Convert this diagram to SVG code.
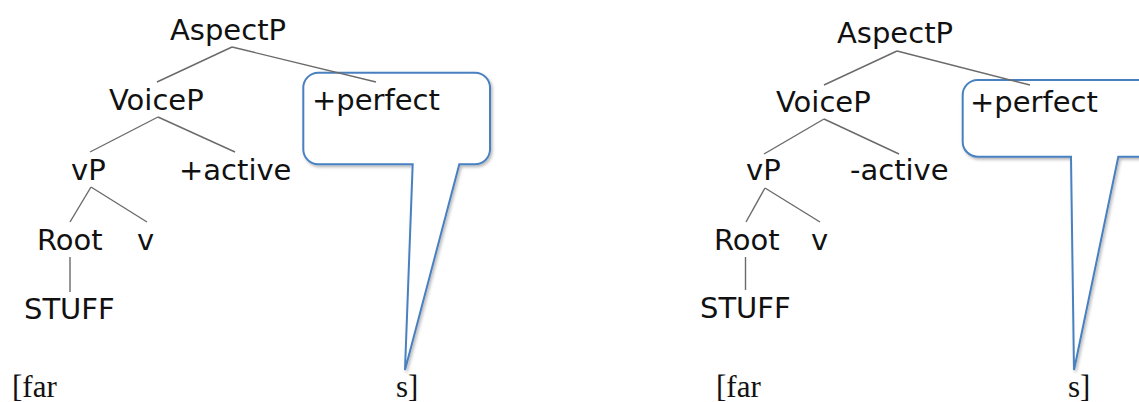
<svg xmlns="http://www.w3.org/2000/svg" width="1139" height="402" viewBox="0 0 1139 402">
  <defs>
    <filter id="shadow" x="-10%" y="-10%" width="130%" height="130%">
      <feDropShadow dx="1.5" dy="2" stdDeviation="1.5" flood-color="#000" flood-opacity="0.28"/>
    </filter>
  </defs>
  <style>
    .lbl { font-family: "DejaVu Sans", sans-serif; font-size: 29px; fill: #111; }
    .word { font-family: "Liberation Serif", serif; font-size: 31px; fill: #111; }
    .edge { stroke: #6a6a6a; stroke-width: 1.4; fill: none; }
    .callout { fill: #fff; stroke: #4a80c0; stroke-width: 2; stroke-linejoin: miter; filter: url(#shadow); }
  </style>
  <rect width="1139" height="402" fill="#fff"/>

  <!-- left tree: +active -->
  <g id="callout-left">
    <path class="callout" d="M318.3,72.7 H475 A15,15 0 0 1 490,87.7 V149.3 A15,15 0 0 1 475,164.3 H459.3 L405,370 L412.7,164.3 H318.3 A15,15 0 0 1 303.3,149.3 V87.7 A15,15 0 0 1 318.3,72.7 Z"/>
    <text class="lbl" x="312" y="110">+perfect</text>
  </g>
  <g id="connectors-left">
    <line class="edge" x1="232" y1="47" x2="157" y2="82"/>
    <line class="edge" x1="232" y1="47" x2="376" y2="82"/>
    <line class="edge" x1="158" y1="117" x2="90" y2="152"/>
    <line class="edge" x1="158" y1="117" x2="235" y2="152"/>
    <line class="edge" x1="91" y1="187" x2="70" y2="222"/>
    <line class="edge" x1="91" y1="187" x2="147" y2="222"/>
    <line class="edge" x1="70" y1="257" x2="70" y2="292"/>
  </g>
  <g id="aspectp-left"><text class="lbl" x="170" y="40">AspectP</text></g>
  <g id="voicep-left"><text class="lbl" x="109" y="110">VoiceP</text></g>
  <g id="vp-left"><text class="lbl" x="71" y="180">vP</text></g>
  <g id="active-left"><text class="lbl" x="179" y="180">+active</text></g>
  <g id="root-left"><text class="lbl" x="37" y="250">Root</text></g>
  <g id="v-left"><text class="lbl" x="137" y="250">v</text></g>
  <g id="stuff-left"><text class="lbl" x="24" y="319">STUFF</text></g>
  <g id="far-left"><text class="word" x="12" y="397">[far</text></g>
  <g id="s-left"><text class="word" x="396" y="397">s]</text></g>

  <!-- right tree: -active -->
  <g id="callout-right">
    <path class="callout" d="M977.7,80 H1180 V156.7 H1118.3 L1074,370 L1071,156.7 H977.7 A15,15 0 0 1 962.7,141.7 V95 A15,15 0 0 1 977.7,80 Z"/>
    <text class="lbl" x="970" y="112">+perfect</text>
  </g>
  <g id="connectors-right">
    <line class="edge" x1="897" y1="51" x2="824" y2="85"/>
    <line class="edge" x1="897" y1="51" x2="1030" y2="85"/>
    <line class="edge" x1="824" y1="119" x2="764" y2="154"/>
    <line class="edge" x1="824" y1="119" x2="899" y2="154"/>
    <line class="edge" x1="765" y1="188" x2="746" y2="222"/>
    <line class="edge" x1="765" y1="188" x2="820" y2="222"/>
    <line class="edge" x1="745.5" y1="257" x2="745.5" y2="290"/>
  </g>
  <g id="aspectp-right"><text class="lbl" x="837" y="43">AspectP</text></g>
  <g id="voicep-right"><text class="lbl" x="776" y="112">VoiceP</text></g>
  <g id="vp-right"><text class="lbl" x="746" y="180">vP</text></g>
  <g id="active-right"><text class="lbl" x="850" y="180">-active</text></g>
  <g id="root-right"><text class="lbl" x="714" y="250">Root</text></g>
  <g id="v-right"><text class="lbl" x="811" y="250">v</text></g>
  <g id="stuff-right"><text class="lbl" x="700" y="318">STUFF</text></g>
  <g id="far-right"><text class="word" x="716" y="397">[far</text></g>
  <g id="s-right"><text class="word" x="1068" y="397">s]</text></g>
</svg>
